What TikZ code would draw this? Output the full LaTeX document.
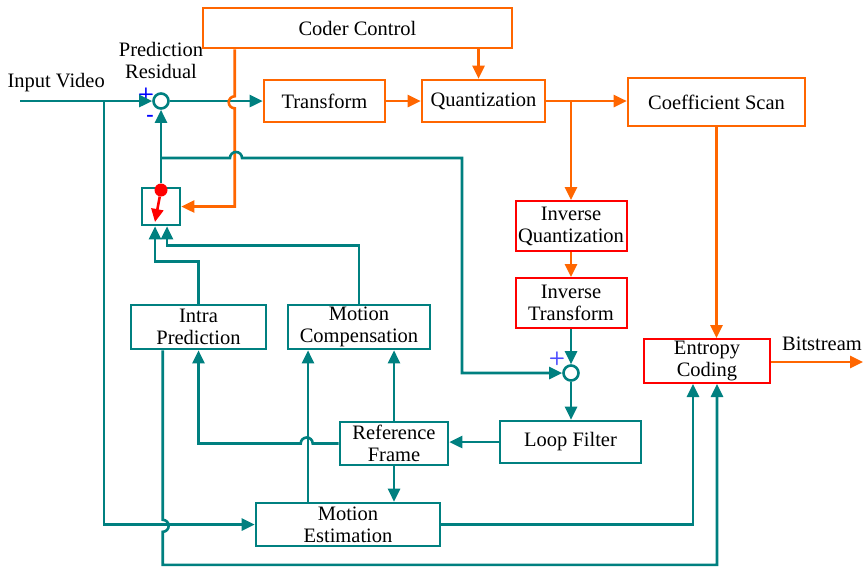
\documentclass[tikz,border=0pt]{standalone}
\usepackage{fontspec}
\setmainfont{Liberation Serif}
\usetikzlibrary{arrows.meta}
\definecolor{sigteal}{RGB}{0,128,128}
\definecolor{ctrlorange}{RGB}{255,102,0}
\tikzset{every node/.style={font=\fontsize{20.5}{22}\selectfont},
         blk/.style={draw=sigteal,line width=2.6pt,fill=white,align=center,inner sep=0pt},
         oblk/.style={blk,draw=ctrlorange},
         rblk/.style={blk,draw=red,line width=2pt},
         sum/.style={circle,draw=sigteal,line width=2.6pt,minimum size=15pt,inner sep=0pt},
         tl/.style={draw=sigteal,line width=2.6pt,-{Triangle[length=13pt,width=12pt]}},
         ol/.style={tl,draw=ctrlorange},
         sign/.style={font=\fontsize{19}{19}\selectfont\bfseries\sffamily,text=blue,inner sep=0pt}
         }

\begin{document}
\begin{tikzpicture}[x=1pt,y=-1pt]
\useasboundingbox (0,0) rectangle (867,566);
% blocks
\node[oblk,minimum width=309,minimum height=40] (ctrl) at (357.5,28) {Coder Control};
\node[oblk,minimum width=121,minimum height=42] (trans) at (324.5,101) {Transform};
\node[oblk,minimum width=123,minimum height=42] (quant) at (483.5,101) {Quantization};
\node[oblk,minimum width=177,minimum height=48] (scan) at (716.5,102) {Coefficient Scan};
\node[rblk,minimum width=111,minimum height=50] (iq) at (571,226) {Inverse\\Quantization};
\node[rblk,minimum width=111,minimum height=50] (it) at (571,303) {Inverse\\Transform};
\node[rblk,minimum width=126,minimum height=44] (entropy) at (707,361) {Entropy\\Coding};
\node[blk,minimum width=141,minimum height=42] (loop) at (570.5,442) {Loop Filter};
\node[blk,minimum width=108,minimum height=43] (ref) at (394,443.5) {Reference\\Frame};
\node[blk,minimum width=184,minimum height=43] (me) at (348,524.5) {Motion\\Estimation};
\node[blk,minimum width=135,minimum height=44] (intra) at (198.5,327) {Intra\\Prediction};
\node[blk,minimum width=142,minimum height=44] (mc) at (359,327) {Motion\\Compensation};
\node[blk,minimum width=38,minimum height=37] (sw) at (161,206.5) {};
\node[circle,fill=red,minimum size=13pt,inner sep=0pt] (dot) at (161,190) {};
\node[sum] (sum1) at (161,101) {};
\node[sum] (sum2) at (571,373) {};
% labels
\node[anchor=west] (invid) at (4,83) {Input Video};
\node[align=center,inner sep=0pt] (resid) at (161,60) {Prediction\\Residual};
\node (bits) at (822,344) {Bitstream};
\node[sign] (plus1) at (146,95) {+};
\node[sign,font=\fontsize{22}{22}\selectfont\bfseries] (minus1) at (150,118) {-};
\node[sign,text=blue!70] (plus2) at (557,359) {+};
\coordinate (in) at (20,101);
\coordinate (split) at (104,101);
\coordinate (fb) at (161,158);
\coordinate (rc) at (462,158);
\coordinate (out) at (863,362);
\coordinate (pin) at (155,222);
% forward path
\draw[tl] (in) -- (sum1);
\draw[tl] (sum1) -- (trans);
\draw[ol] (trans) -- (quant);
\draw[ol] (quant.east) -- (quant.east -| scan.west);
\draw[ol] (quant.east -| iq) -- (iq.north);
\draw[ol] (iq) -- (it);
\draw[ol] (scan) -- (scan |- entropy.north);
\draw[ol] (entropy.east |- out) -- (out);
\draw[ol] ([xshift=-5pt]quant.north |- ctrl.south) -- ([xshift=-5pt]quant.north);
\draw[ol] ([xshift=33pt]ctrl.south west) -- ++(0,47) arc[start angle=270,end angle=90,radius=6] |- (sw.east);
% reconstruction loop
\draw[tl] (it) -- (sum2);
\draw[tl] (sum2) -- (sum2 |- loop.north);
\draw[tl] (loop.west) -- (loop.west -| ref.east);
\draw[tl] (ref) -- (ref |- me.north);
\draw[tl] (ref) -- (ref |- mc.south);
\draw[tl] ([xshift=-40pt]me.north) -- ([xshift=-40pt]me.north |- mc.south);
\draw[tl] (ref.west) -- ++(-26,0) arc[start angle=360,end angle=180,radius=6] -| (intra.south);
\draw[tl] (split) |- (me);
\draw[tl] (me.east) -| ([xshift=-14pt]entropy.south);
\draw[tl] ([xshift=33pt]intra.south west) -- ++(0,169.5) arc[start angle=-90,end angle=90,radius=6] -- ++(0,33) -| ([xshift=10pt]entropy.south);
% mode switch
\draw[tl] (intra.north) -- ++(0,-42) -| ([xshift=-6pt]sw.south);
\draw[tl] (mc.north) -- ++(0,-58) -| ([xshift=6pt]sw.south);
\draw[tl] (dot) -- (sum1);
\draw[line width=2.6pt,red,-{Triangle[length=13pt,width=12pt]}] (dot) -- (pin);
\draw[tl] (fb) -- ++(69,0) arc[start angle=180,end angle=360,radius=6] -- (rc) |- (sum2);
\end{tikzpicture}
\end{document}
